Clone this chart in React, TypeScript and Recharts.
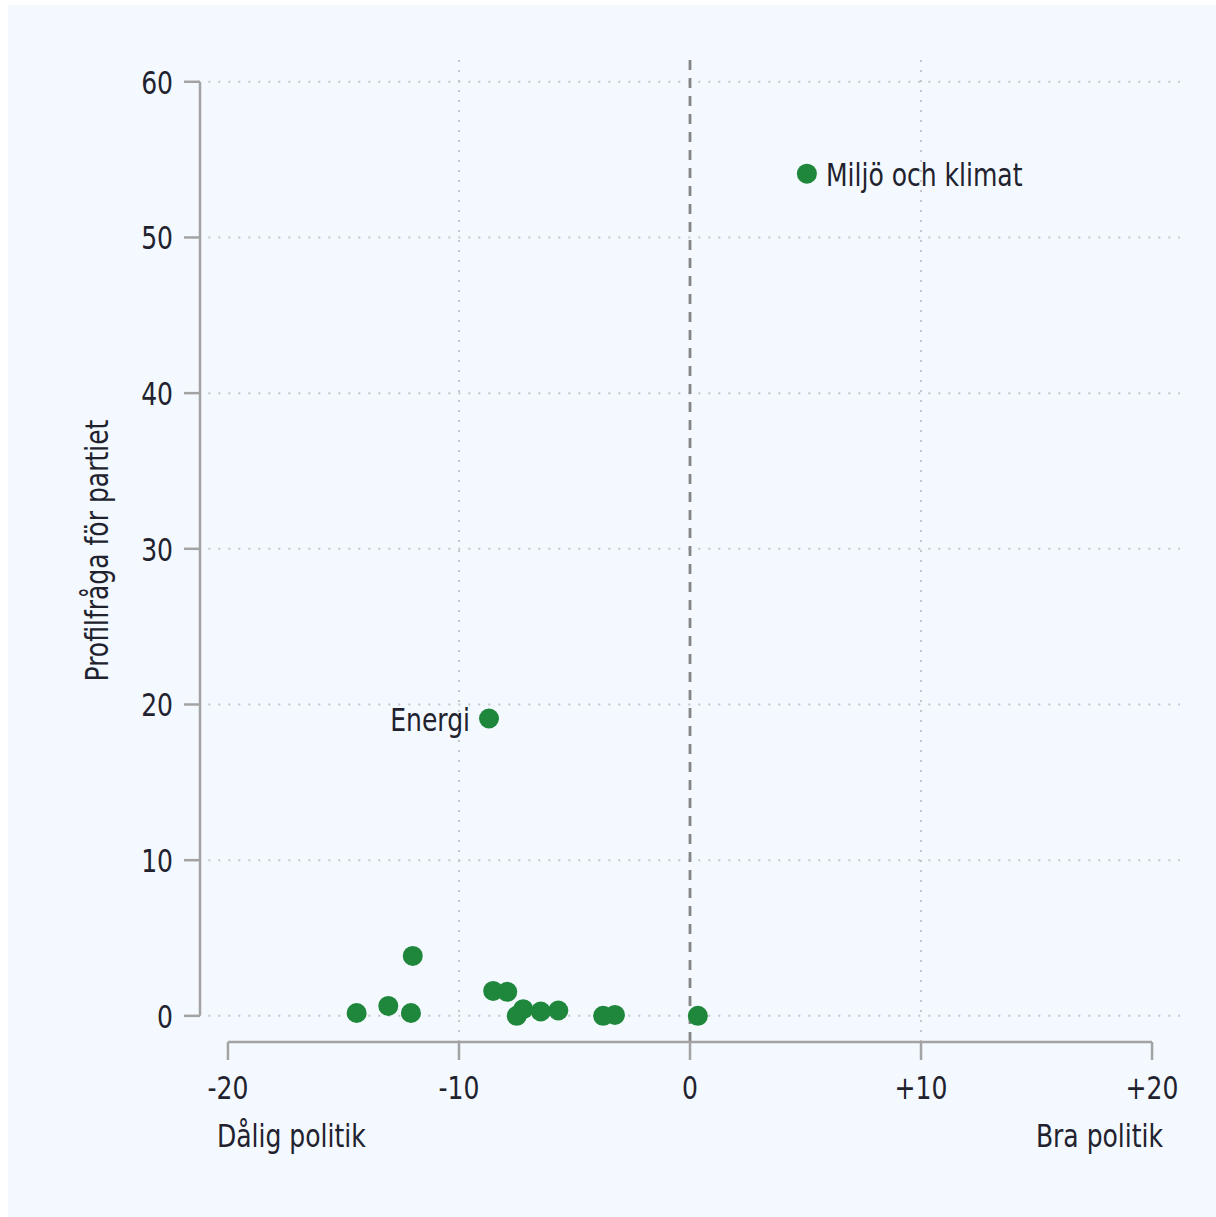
import React from "react";
import {
  ScatterChart,
  Scatter,
  XAxis,
  YAxis,
  ReferenceLine,
} from "recharts";

// Data
const xValues = [5.06, -8.7, -12.0, -14.43, -13.06, -12.08, -8.52, -7.91, -7.5, -7.22, -6.46, -5.7, -3.76, -3.25, 0.34];
const yValues = [54.1, 19.1, 3.85, 0.18, 0.64, 0.18, 1.6, 1.54, 0.0, 0.43, 0.28, 0.34, 0.0, 0.06, 0.0];
const pointLabels = ["Miljö och klimat", "Energi", "", "", "", "", "", "", "", "", "", "", "", "", ""];

const xTicks = [-20, -10, 0, 10, 20];
const yTicks = [0, 10, 20, 30, 40, 50, 60];
const xGridValues = [-10, 10];
const xEndLabels = { left: "Dålig politik", right: "Bra politik" };
const yTitle = "Profilfråga för partiet";

const X_DOMAIN: [number, number] = [-21.21, 21.21];
const Y_DOMAIN: [number, number] = [-1.68, 61.72];

const FONT = "'Liberation Sans Narrow', 'DejaVu Sans Condensed', 'Liberation Sans', sans-serif";
const FS = 32;
const SX = 0.87;
const TEXT = "#22222f";
const AXIS = "#a3a3a3";
const GRID = "#c3c6ca";
const GREEN = "#1f873b";

const data = xValues.map((x, i) => ({ x, y: yValues[i], label: pointLabels[i] }));

const fmtX = (v: number) => (v > 0 ? `+${v}` : `${v}`);

const NarrowText = ({ x, y, anchor, children, rotate }: any) => (
  <text
    transform={`translate(${x}, ${y})${rotate ? ` rotate(${rotate})` : ""} scale(${SX}, 1)`}
    x={0}
    y={0}
    textAnchor={anchor}
    fontFamily={FONT}
    fontSize={FS}
    fill={TEXT}
  >
    {children}
  </text>
);

const XTick = (props: any) => {
  const { x, y, payload } = props;
  const v = payload.value;
  return (
    <g>
      <NarrowText x={x} y={y + 37} anchor="middle">
        {fmtX(v)}
      </NarrowText>
      {v === -20 && (
        <NarrowText x={x - 11} y={y + 85} anchor="start">
          {xEndLabels.left}
        </NarrowText>
      )}
      {v === 20 && (
        <NarrowText x={x + 11} y={y + 85} anchor="end">
          {xEndLabels.right}
        </NarrowText>
      )}
    </g>
  );
};

const YTick = (props: any) => {
  const { x, y, payload } = props;
  return (
    <NarrowText x={x - 9} y={y + 12} anchor="end">
      {payload.value}
    </NarrowText>
  );
};

const Dot = (props: any) => {
  const { cx, cy, payload } = props;
  const lbl = payload && payload.label;
  const right = payload && payload.x >= 0;
  return (
    <g>
      <circle cx={cx} cy={cy} r={10} fill={GREEN} />
      {lbl ? (
        <NarrowText x={right ? cx + 19 : cx - 19} y={cy + 12} anchor={right ? "start" : "end"}>
          {lbl}
        </NarrowText>
      ) : null}
    </g>
  );
};

const YTitle = (props: any) => {
  const vb = props.viewBox || {};
  const cx = 100;
  const cy = (vb.y ?? 50) + (vb.height ?? 987) / 2 + 2;
  return (
    <NarrowText x={cx} y={cy} anchor="middle" rotate={-90}>
      {yTitle}
    </NarrowText>
  );
};

export default function App() {
  return (
    <div
      style={{
        position: "absolute",
        left: 8,
        top: 5,
        width: 1208,
        height: 1212,
        background: "#f3f9fe",
      }}
    >
      <ScatterChart
        width={1208}
        height={1212}
        margin={{ top: 50, right: 36, bottom: 75, left: 92 }}
      >
        <XAxis
          type="number"
          dataKey="x"
          domain={X_DOMAIN}
          allowDataOverflow
          ticks={xTicks}
          interval={0}
          axisLine={false}
          tickLine={{ stroke: AXIS, strokeWidth: 2.5 }}
          tickSize={18}
          height={100}
          tick={<XTick />}
        />
        <YAxis
          type="number"
          dataKey="y"
          domain={Y_DOMAIN}
          allowDataOverflow
          ticks={yTicks}
          interval={0}
          axisLine={false}
          tickLine={{ stroke: AXIS, strokeWidth: 2.5 }}
          tickSize={16}
          width={100}
          tick={<YTick />}
          label={{ content: <YTitle /> } as any}
        />
        {yTicks.map((v) => (
          <ReferenceLine
            key={`hy${v}`}
            segment={[{ x: -20.85, y: v }, { x: X_DOMAIN[1], y: v }]}
            stroke={GRID}
            strokeWidth={2}
            strokeDasharray="2 8"
          />
        ))}
        {xGridValues.map((v) => (
          <ReferenceLine key={`vx${v}`} x={v} stroke={GRID} strokeWidth={2} strokeDasharray="2 8" />
        ))}
        <ReferenceLine x={0} stroke="#858585" strokeWidth={2.8} strokeDasharray="10 8" />
        <ReferenceLine
          segment={[{ x: X_DOMAIN[0], y: 0 }, { x: X_DOMAIN[0], y: 60 }]}
          stroke={AXIS}
          strokeWidth={2.5}
          ifOverflow="visible"
        />
        <ReferenceLine
          segment={[{ x: -20, y: Y_DOMAIN[0] }, { x: 20, y: Y_DOMAIN[0] }]}
          stroke={AXIS}
          strokeWidth={2.5}
          ifOverflow="visible"
        />
        <Scatter data={data} fill={GREEN} shape={<Dot />} isAnimationActive={false} />
      </ScatterChart>
    </div>
  );
}
